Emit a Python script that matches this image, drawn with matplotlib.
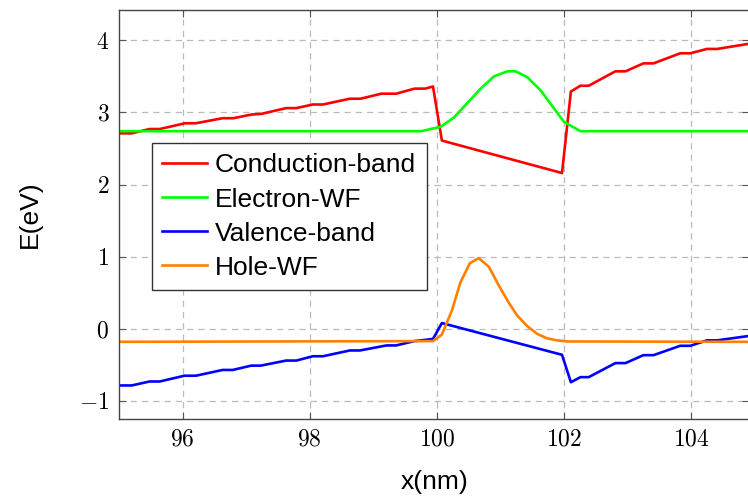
import numpy as np
import matplotlib.pyplot as plt

plt.rcParams['mathtext.fontset'] = 'cm'
plt.rcParams['font.family'] = ['Liberation Sans', 'DejaVu Sans']

# Conduction band (eV) vs position (nm)
cb_x = [95.0, 95.2, 95.48, 95.64, 96.04, 96.21, 96.63, 96.8, 97.08, 97.24, 97.63, 97.79,
        98.05, 98.21, 98.63, 98.8, 99.13, 99.36, 99.65, 99.82, 99.94,
        100.08, 101.97, 102.11, 102.26, 102.39, 102.81, 102.97, 103.25, 103.41,
        103.83, 103.99, 104.25, 104.41, 104.9]
cb_e = [2.71, 2.71, 2.77, 2.77, 2.85, 2.85, 2.92, 2.92, 2.97, 2.98, 3.06, 3.06,
        3.11, 3.11, 3.19, 3.19, 3.26, 3.26, 3.33, 3.33, 3.36,
        2.61, 2.16, 3.29, 3.37, 3.37, 3.57, 3.57, 3.68, 3.68,
        3.82, 3.82, 3.88, 3.88, 3.95]

# Valence band
vb_x = [95.0, 95.2, 95.48, 95.64, 96.03, 96.21, 96.63, 96.79, 97.08, 97.23, 97.63, 97.79,
        98.05, 98.21, 98.63, 98.79, 99.21, 99.36, 99.65, 99.94,
        100.08, 101.97, 102.11, 102.26, 102.39, 102.81, 102.97, 103.25, 103.41,
        103.83, 103.99, 104.25, 104.41, 104.9]
vb_e = [-0.785, -0.785, -0.73, -0.73, -0.65, -0.65, -0.57, -0.57, -0.51, -0.51, -0.44, -0.44,
        -0.38, -0.38, -0.30, -0.30, -0.23, -0.23, -0.17, -0.14,
        0.08, -0.36, -0.74, -0.67, -0.67, -0.475, -0.475, -0.365, -0.365,
        -0.235, -0.235, -0.16, -0.16, -0.10]

# Electron wavefunction
ewf_x = [95.0, 99.76, 99.9, 100.06, 100.27, 100.48, 100.69, 100.9, 101.11, 101.24,
         101.42, 101.63, 101.84, 102.0, 102.26, 104.9]
ewf_e = [2.74, 2.74, 2.77, 2.80, 2.93, 3.13, 3.33, 3.50, 3.57, 3.57,
         3.49, 3.31, 3.06, 2.87, 2.74, 2.74]

# Hole wavefunction
hwf_x = [95.0, 99.94, 100.08, 100.24, 100.37, 100.52, 100.66, 100.82, 100.97, 101.12,
         101.26, 101.42, 101.58, 101.73, 101.89, 102.05, 104.9]
hwf_e = [-0.18, -0.17, -0.08, 0.26, 0.64, 0.91, 0.98, 0.86, 0.61, 0.38,
         0.19, 0.04, -0.07, -0.13, -0.16, -0.175, -0.18]

xticks = [96, 98, 100, 102, 104]
yticks = [-1, 0, 1, 2, 3, 4]

fig = plt.figure(figsize=(7.48, 4.96), dpi=100)
ax = fig.add_axes([119/748, 77/496, 1.0 - 119/748 + 0.002, 409/496])

lw = 1.9
ax.plot(cb_x, cb_e, color='#ff0000', lw=lw, label='Conduction-band')
ax.plot(ewf_x, ewf_e, color='#00ff00', lw=lw, label='Electron-WF')
ax.plot(vb_x, vb_e, color='#0000ff', lw=lw, label='Valence-band')
ax.plot(hwf_x, hwf_e, color='#ff8000', lw=lw, label='Hole-WF')

ax.set_xlim(95, 104.92)
ax.set_ylim(-1.25, 4.42)
ax.set_xticks(xticks)
ax.set_yticks(yticks)
ax.set_xticklabels(['$%d$' % t for t in xticks], fontsize=17)
ax.set_yticklabels(['$%d$' % t if t >= 0 else r'$-%d$' % -t for t in yticks], fontsize=17)
ax.tick_params(direction='in', top=True, right=True, length=5, color='#555555', pad=7)
ax.grid(True, color='#bbbbbb', linestyle=(0, (5, 4)), lw=0.9)
for s in ax.spines.values():
    s.set_color('#444444')
    s.set_linewidth(1.0)

ax.set_xlabel('x(nm)', fontsize=19, labelpad=14)
ax.set_ylabel('E(eV)', fontsize=19, labelpad=27)

leg = ax.legend(loc='upper left', bbox_to_anchor=(0.052, 0.675), fontsize=19,
                frameon=True, fancybox=False, edgecolor='#333333', framealpha=1,
                handlelength=1.7, handletextpad=0.3, labelspacing=0.38,
                borderpad=0.4, borderaxespad=0)
leg.get_frame().set_linewidth(1.0)

fig.savefig('out.png', dpi=100)
